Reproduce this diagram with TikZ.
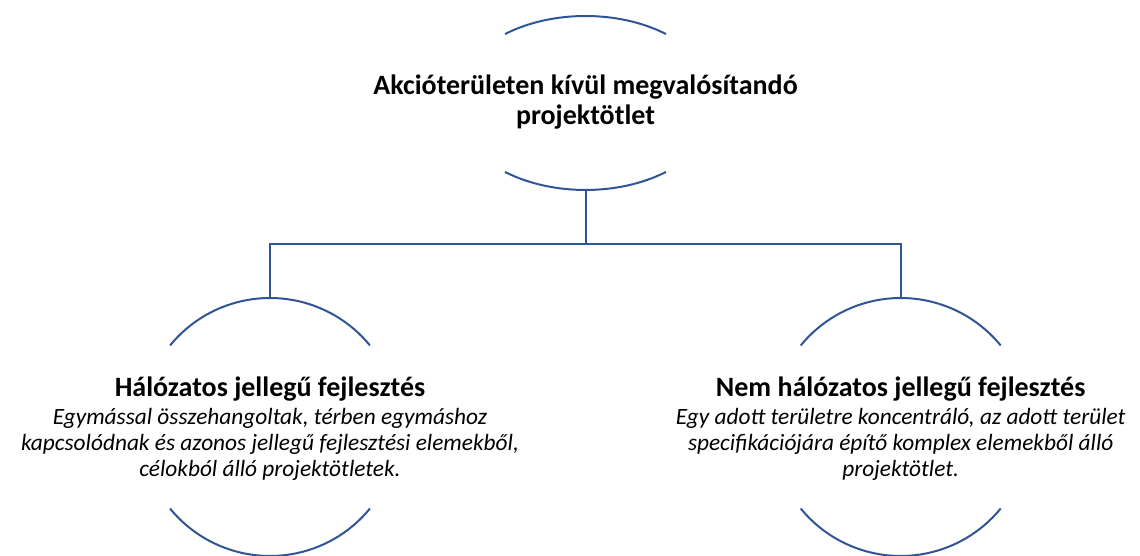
\documentclass[tikz,border=0pt]{standalone}
\usepackage{fontspec}
\setmainfont{Carlito}
\definecolor{arcblue}{HTML}{2F5597}
\tikzset{
  bracket/.style={draw=arcblue, line width=1.5pt},
  link/.style={draw=arcblue, line width=1.5pt},
  titletext/.style={align=center, font=\fontsize{21}{22.5}\selectfont\bfseries},
  leaftext/.style={align=center, font=\fontsize{17.5}{19.5}\selectfont\itshape},
}
\newcommand{\leafhead}[1]{{\upshape\bfseries\fontsize{21}{22}\selectfont #1}}
\begin{document}
\begin{tikzpicture}[x=0.75pt, y=0.75pt]
  \useasboundingbox (0,0) rectangle (1140,556);

  % felső elem
  \draw[bracket] (585.5,453) ++(52.4:132 and 87) arc[start angle=52.4, end angle=127.6, x radius=132, y radius=87];
  \draw[bracket] (585.5,453) ++(-127.6:132 and 87) arc[start angle=-127.6, end angle=-52.4, x radius=132, y radius=87];
  \node[titletext] (root) at (585.5,454) {Akcióterületen kívül megvalósítandó\\projektötlet};
  \coordinate (rootfoot) at (585.5,366);

  % bal elem
  \draw[bracket] (270,129) ++(39.2:129) arc[start angle=39.2, end angle=140.8, radius=129];
  \draw[bracket] (270,129) ++(-140.8:129) arc[start angle=-140.8, end angle=-39.2, radius=129];
  \node[leaftext] (left) at (270,127) {\leafhead{Hálózatos jellegű fejlesztés}\\[1.5pt]
    Egymással összehangoltak, térben egymáshoz\\
    kapcsolódnak és azonos jellegű fejlesztési elemekből,\\
    célokból álló projektötletek.};
  \coordinate (lefttop) at (270,258);

  % jobb elem
  \draw[bracket] (900.7,129) ++(39.2:129) arc[start angle=39.2, end angle=140.8, radius=129];
  \draw[bracket] (900.7,129) ++(-140.8:129) arc[start angle=-140.8, end angle=-39.2, radius=129];
  \node[leaftext] (right) at (900.7,127) {\leafhead{Nem hálózatos jellegű fejlesztés}\\[1.5pt]
    Egy adott területre koncentráló, az adott terület\\
    specifikációjára építő komplex elemekből álló\\
    projektötlet.};
  \coordinate (righttop) at (900.7,258);

  % összekötők
  \draw[link] (rootfoot) -- ++(0,-54) coordinate (bar);
  \draw[link] (bar) -| (lefttop);
  \draw[link] (bar) -| (righttop);
\end{tikzpicture}
\end{document}
